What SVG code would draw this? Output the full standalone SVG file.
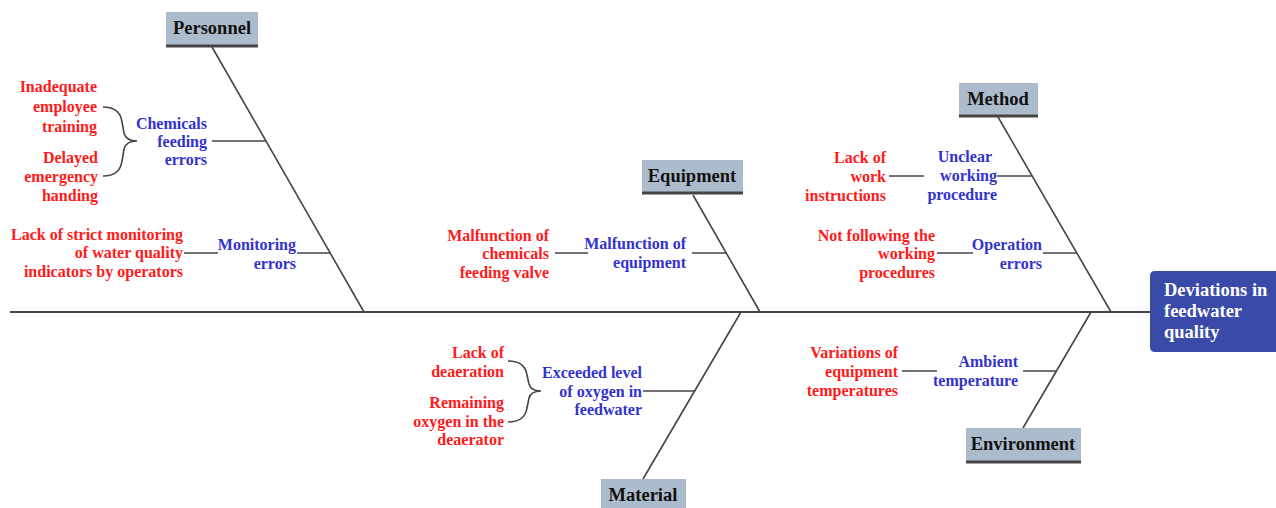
<svg xmlns="http://www.w3.org/2000/svg" width="1276" height="508" viewBox="0 0 1276 508">
<style>
text{font-family:"Liberation Serif","Times New Roman",serif;font-weight:bold}
.cat{font-size:18.5px;fill:#111;text-anchor:middle}
.r{font-size:16px;fill:#ff1a1a;text-anchor:end}
.b{font-size:16px;fill:#3333cc;text-anchor:end}
.box{fill:#adbccd}
.bar{stroke:#444;stroke-width:3}
.ln{stroke:#444;stroke-width:1.6;fill:none}
.hd{font-size:18.5px;fill:#fff}
</style>
<rect width="1276" height="508" fill="#fff"/>
<g id="connectors">
<line class="ln" x1="10" y1="312" x2="1150" y2="312" style="stroke-width:2"/>
<line class="ln" x1="212" y1="47" x2="364" y2="312"/>
<line class="ln" x1="693" y1="195" x2="760" y2="312"/>
<line class="ln" x1="998" y1="117" x2="1111" y2="312"/>
<line class="ln" x1="741" y1="312" x2="643" y2="479"/>
<line class="ln" x1="1091" y1="312" x2="1023" y2="428"/>
<line class="ln" x1="212" y1="141" x2="266" y2="141"/>
<line class="ln" x1="297" y1="253" x2="330" y2="253"/>
<line class="ln" x1="184" y1="253" x2="218" y2="253"/>
<line class="ln" x1="692" y1="253" x2="726" y2="253"/>
<line class="ln" x1="555" y1="253" x2="588" y2="253"/>
<line class="ln" x1="997" y1="176" x2="1032" y2="176"/>
<line class="ln" x1="889" y1="176" x2="924" y2="176"/>
<line class="ln" x1="1043" y1="253" x2="1077" y2="253"/>
<line class="ln" x1="937" y1="253" x2="973" y2="253"/>
<line class="ln" x1="643" y1="391" x2="695" y2="391"/>
<line class="ln" x1="1023" y1="371" x2="1057" y2="371"/>
<line class="ln" x1="902" y1="371" x2="937" y2="371"/>
<path class="ln" d="M103,107 Q120,107 122,122 L124,133 Q126,141 137,141 Q126,141 124,149 L122,161 Q120,176 103,176"/>
<path class="ln" d="M508,361 Q525,361 527,375 L529,384 Q531,391 541,391 Q531,391 529,398 L527,408 Q525,422 508,422"/>
</g>
<g id="head">
<path d="M1155,271 H1276 V352 H1155 Q1150,352 1150,347 V276 Q1150,271 1155,271 Z" fill="#3a4aa8"/>
<text class="hd" x="1164" y="296">Deviations in</text>
<text class="hd" x="1164" y="317">feedwater</text>
<text class="hd" x="1164" y="338">quality</text>
</g>
<g id="personnel">
<rect class="box" x="166" y="12" width="92" height="35"/>
<line class="bar" x1="166" y1="46" x2="258" y2="46"/>
<text class="cat" x="212" y="34">Personnel</text>
</g>
<g id="equipment">
<rect class="box" x="642" y="160" width="101" height="34"/>
<line class="bar" x1="642" y1="193" x2="743" y2="193"/>
<text class="cat" x="692" y="182">Equipment</text>
</g>
<g id="method">
<rect class="box" x="959" y="83" width="79" height="34"/>
<line class="bar" x1="959" y1="116" x2="1038" y2="116"/>
<text class="cat" x="998" y="105">Method</text>
</g>
<g id="material">
<rect class="box" x="601" y="479" width="85" height="29"/>
<text class="cat" x="643" y="501">Material</text>
</g>
<g id="environment">
<rect class="box" x="966" y="428" width="115" height="35"/>
<line class="bar" x1="966" y1="462" x2="1081" y2="462"/>
<text class="cat" x="1023" y="450">Environment</text>
</g>
<g id="chemicals-feeding-errors">
<text class="b" x="207" y="129">Chemicals</text>
<text class="b" x="207" y="147">feeding</text>
<text class="b" x="207" y="165">errors</text>
</g>
<g id="inadequate-training">
<text class="r" x="97" y="92">Inadequate</text>
<text class="r" x="97" y="112">employee</text>
<text class="r" x="97" y="132">training</text>
</g>
<g id="delayed-handing">
<text class="r" x="98" y="163">Delayed</text>
<text class="r" x="98" y="182">emergency</text>
<text class="r" x="98" y="201">handing</text>
</g>
<g id="monitoring-errors">
<text class="b" x="296" y="250">Monitoring</text>
<text class="b" x="296" y="269">errors</text>
</g>
<g id="lack-monitoring">
<text class="r" x="183" y="240">Lack of strict monitoring</text>
<text class="r" x="183" y="258">of water quality</text>
<text class="r" x="183" y="277">indicators by operators</text>
</g>
<g id="malfunction-equipment">
<text class="b" x="686" y="249">Malfunction of</text>
<text class="b" x="686" y="268">equipment</text>
</g>
<g id="malfunction-valve">
<text class="r" x="549" y="241">Malfunction of</text>
<text class="r" x="549" y="259">chemicals</text>
<text class="r" x="549" y="278">feeding valve</text>
</g>
<g id="unclear-procedure">
<text class="b" x="992" y="162">Unclear</text>
<text class="b" x="997" y="181">working</text>
<text class="b" x="997" y="200">procedure</text>
</g>
<g id="lack-instructions">
<text class="r" x="886" y="163">Lack of</text>
<text class="r" x="886" y="182">work</text>
<text class="r" x="886" y="201">instructions</text>
</g>
<g id="operation-errors">
<text class="b" x="1042" y="250">Operation</text>
<text class="b" x="1042" y="269">errors</text>
</g>
<g id="not-following">
<text class="r" x="935" y="241">Not following the</text>
<text class="r" x="935" y="259">working</text>
<text class="r" x="935" y="278">procedures</text>
</g>
<g id="exceeded-oxygen">
<text class="b" x="642" y="378">Exceeded level</text>
<text class="b" x="642" y="397">of oxygen in</text>
<text class="b" x="642" y="415">feedwater</text>
</g>
<g id="lack-deaeration">
<text class="r" x="504" y="358">Lack of</text>
<text class="r" x="504" y="377">deaeration</text>
</g>
<g id="remaining-oxygen">
<text class="r" x="504" y="408">Remaining</text>
<text class="r" x="504" y="427">oxygen in the</text>
<text class="r" x="504" y="445">deaerator</text>
</g>
<g id="ambient-temperature">
<text class="b" x="1018" y="367">Ambient</text>
<text class="b" x="1018" y="386">temperature</text>
</g>
<g id="variations-temperatures">
<text class="r" x="898" y="358">Variations of</text>
<text class="r" x="898" y="377">equipment</text>
<text class="r" x="898" y="396">temperatures</text>
</g>
</svg>
